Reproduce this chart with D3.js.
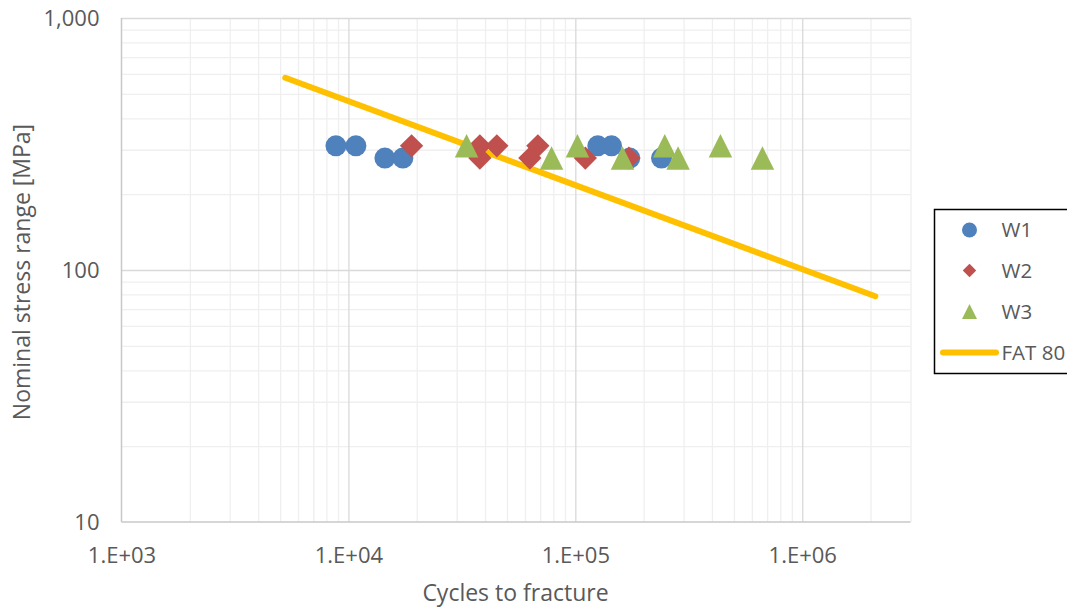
<!DOCTYPE html>
<html><head><meta charset="utf-8">
<script src="https://cdn.jsdelivr.net/npm/d3@7"></script>
<style>
html,body{margin:0;padding:0;background:#fff;}
svg{display:block;}
text{font-family:"Open Sans",sans-serif;fill:#595959;}
</style></head>
<body>
<svg id="chart" width="1067" height="607"></svg>
<script>
// ---- data ----
const w1Cycles = [8810, 10790, 14480, 17380, 125600, 144400, 173800, 239800];
const w1Stress = [311, 311, 278, 278, 311, 311, 278, 278];
const w2Cycles = [18980, 37950, 37950, 45090, 63040, 68370, 110700, 172100];
const w2Stress = [311, 311, 278, 311, 278, 311, 278, 278];
const w3Cycles = [33170, 78580, 102200, 161400, 247800, 283700, 436100, 667900];
const w3Stress = [311, 278, 311, 278, 311, 278, 311, 278];
const fatCycles = [5270, 2100000];
const fatStress = [579, 78.7];
const xTickValues = [1e3, 1e4, 1e5, 1e6];
const xTickLabels = ["1.E+03", "1.E+04", "1.E+05", "1.E+06"];
const yTickValues = [10, 100, 1000];
const yTickLabels = ["10", "100", "1,000"];
const seriesNames = ["W1", "W2", "W3", "FAT 80"];

const colors = {W1: "#4F81BD", W2: "#C0504D", W3: "#9BBB59", FAT: "#FFC000"};

(function () {
const svg = d3.select("#chart");
const pL = 121.5, pR = 910.5, pT = 18, pB = 522;
const tickFont = "22px", titleFont = "23px", legendFont = "20.5px";
const x = d3.scaleLog().domain([1e3, 3e6]).range([pL, pR]);
const y = d3.scaleLog().domain([10, 1000]).range([pB, pT]);

// minor gridlines
const xMinor = [], yMinor = [];
for (let d = 1e3; d < 3e6; d *= 10) for (let k = 2; k <= 9; k++) if (d * k <= 3e6) xMinor.push(d * k);
for (let d = 10; d < 1000; d *= 10) for (let k = 2; k <= 9; k++) yMinor.push(d * k);

const g = svg.append("g");
g.append("g").attr("class", "xminor").attr("transform", `translate(0,${pB})`)
  .call(d3.axisBottom(x).tickValues(xMinor).tickSize(-(pB - pT)).tickFormat(""));
g.append("g").attr("class", "yminor").attr("transform", `translate(${pL},0)`)
  .call(d3.axisLeft(y).tickValues(yMinor).tickSize(-(pR - pL)).tickFormat(""));
g.selectAll(".xminor line, .yminor line").attr("stroke", "#EFEFEF").attr("stroke-width", 1.3);
g.selectAll(".xminor path, .yminor path").remove();

// major gridlines
g.append("g").attr("class", "xmaj").attr("transform", `translate(0,${pB})`)
  .call(d3.axisBottom(x).tickValues(xTickValues.slice(1)).tickSize(-(pB - pT)).tickFormat(""));
g.append("g").attr("class", "ymaj").attr("transform", `translate(${pL},0)`)
  .call(d3.axisLeft(y).tickValues(yTickValues.slice(1)).tickSize(-(pR - pL)).tickFormat(""));
g.selectAll(".xmaj line, .ymaj line").attr("stroke", "#D9D9D9").attr("stroke-width", 1.3);
g.selectAll(".xmaj path, .ymaj path").remove();

// axis lines
g.append("line").attr("x1", pL).attr("x2", pL).attr("y1", pT).attr("y2", pB).attr("stroke", "#C8C8C8").attr("stroke-width", 1.5);
g.append("line").attr("x1", pL).attr("x2", pR).attr("y1", pB).attr("y2", pB).attr("stroke", "#C8C8C8").attr("stroke-width", 1.5);

// tick labels
const xAx = svg.append("g").attr("transform", `translate(0,${pB})`)
  .call(d3.axisBottom(x).tickValues(xTickValues).tickSize(0).tickPadding(0).tickFormat((d, i) => xTickLabels[i]));
xAx.select("path").remove();
xAx.attr("font-family", null).attr("font-size", null);
xAx.selectAll("text").attr("y", 33).attr("dy", "0.35em").style("font-size", tickFont).attr("fill", "#595959");

const yAx = svg.append("g").attr("transform", `translate(${pL},0)`)
  .call(d3.axisLeft(y).tickValues(yTickValues).tickSize(0).tickPadding(0).tickFormat((d, i) => yTickLabels[i]));
yAx.select("path").remove();
yAx.attr("font-family", null).attr("font-size", null);
yAx.selectAll("text").attr("x", -22).attr("dy", "0.35em").style("font-size", tickFont).attr("fill", "#595959");

// axis titles
svg.append("text").attr("x", 515.5).attr("y", 601).attr("text-anchor", "middle")
  .style("font-size", titleFont).text("Cycles to fracture");
svg.append("text").attr("transform", `translate(30,272) rotate(-90)`).attr("text-anchor", "middle")
  .style("font-size", titleFont).text("Nominal stress range [MPa]");

// FAT line
const line = d3.line().x(d => x(d[0])).y(d => y(d[1]));
svg.append("path").datum(fatCycles.map((c, i) => [c, fatStress[i]]))
  .attr("d", line).attr("fill", "none").attr("stroke", colors.FAT).attr("stroke-width", 6).attr("stroke-linecap", "round");

// markers
const circleSym = d3.symbol().type(d3.symbolCircle).size(Math.PI * 10.5 * 10.5);
const diamondSym = d3.symbol().type(d3.symbolSquare).size(16.5 * 16.5);
const triPath = (s) => `M0,${-s / 2}L${s / 2},${s / 2}L${-s / 2},${s / 2}Z`;

svg.append("g").selectAll("path").data(w1Cycles.map((c, i) => [c, w1Stress[i]])).join("path")
  .attr("d", circleSym).attr("fill", colors.W1)
  .attr("transform", d => `translate(${x(d[0])},${y(d[1])})`);
svg.append("g").selectAll("path").data(w2Cycles.map((c, i) => [c, w2Stress[i]])).join("path")
  .attr("d", diamondSym).attr("fill", colors.W2)
  .attr("transform", d => `translate(${x(d[0])},${y(d[1])}) rotate(45)`);
svg.append("g").selectAll("path").data(w3Cycles.map((c, i) => [c, w3Stress[i]])).join("path")
  .attr("d", triPath(23.5)).attr("fill", colors.W3)
  .attr("transform", d => `translate(${x(d[0])},${y(d[1])})`);

// legend
const lg = svg.append("g");
lg.append("rect").attr("x", 934.5).attr("y", 209.5).attr("width", 140).attr("height", 164)
  .attr("fill", "#fff").attr("stroke", "#000").attr("stroke-width", 1.5);
const ly = [230, 270.5, 311.5, 352.5];
lg.append("path").attr("d", d3.symbol().type(d3.symbolCircle).size(Math.PI * 7.5 * 7.5)).attr("fill", colors.W1)
  .attr("transform", `translate(969.5,${ly[0]})`);
lg.append("path").attr("d", d3.symbol().type(d3.symbolSquare).size(9.5 * 9.5)).attr("fill", colors.W2)
  .attr("transform", `translate(969.5,${ly[1]}) rotate(45)`);
lg.append("path").attr("d", triPath(15)).attr("fill", colors.W3)
  .attr("transform", `translate(969.5,${ly[2]})`);
lg.append("line").attr("x1", 943).attr("x2", 996).attr("y1", ly[3]).attr("y2", ly[3])
  .attr("stroke", colors.FAT).attr("stroke-width", 6).attr("stroke-linecap", "round");
seriesNames.forEach((n, i) => {
  lg.append("text").attr("x", 1001.5).attr("y", ly[i]).attr("dy", "0.35em").style("font-size", legendFont).text(n);
});
})();
</script>
</body></html>
